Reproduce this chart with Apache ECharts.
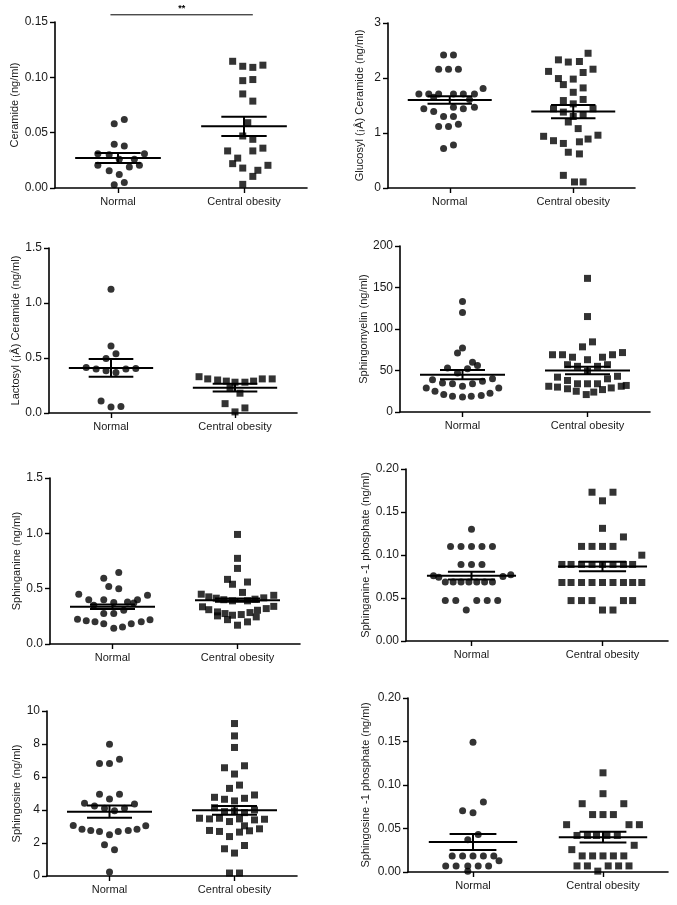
<!DOCTYPE html>
<html>
<head>
<meta charset="utf-8">
<script src="https://cdn.jsdelivr.net/npm/echarts@6/dist/echarts.min.js"></script>
<style>html,body{margin:0;padding:0;background:#fff}#c{width:677px;height:905px}</style>
</head>
<body>
<div id="c"></div>
<script>
// ---- DATA ----
const groups = ['Normal', 'Central obesity'];
const yNames = ['Ceramide (ng/ml)', 'Glucosyl (¡Â) Ceramide (ng/ml)', 'Lactosyl (¡Â) Ceramide (ng/ml)', 'Sphingomyelin (ng/ml)',
  'Sphinganine (ng/ml)', 'Sphinganine -1 phosphate (ng/ml)', 'Sphingosine (ng/ml)', 'Sphingosine -1 phosphate (ng/ml)'];
const yMax = [0.15, 3, 1.5, 200, 1.5, 0.20, 10, 0.20];
const yStep = [0.05, 1, 0.5, 50, 0.5, 0.05, 2, 0.05];
const yDecimals = [2, 0, 1, 0, 1, 2, 0, 2];
const meanNormal = [0.0271, 1.60, 0.41, 45, 0.336, 0.076, 3.90, 0.0345];
const semNormal = [0.0045, 0.07, 0.08, 5.5, 0.02, 0.0045, 0.37, 0.0092];
const meanCentral = [0.0557, 1.39, 0.23, 50, 0.396, 0.0867, 3.98, 0.040];
const semCentral = [0.0086, 0.12, 0.035, 4.5, 0.015, 0.0055, 0.27, 0.0062];
// significance bracket on ceramide panel: [fromX, toX, level]
const sigBracket = [0.44, 1.57, 0.1565];
const sigText = '**';

// Points: [x offset from group centre, value]
const ceramideNormal = [[-0.03,0.058],[0.05,0.062],[-0.03,0.0395],[0.05,0.038],[-0.16,0.031],[-0.07,0.030],[0.21,0.031],[0.01,0.026],[0.13,0.026],[-0.16,0.0205],[0.09,0.019],[0.17,0.0205],[-0.07,0.0155],[0.01,0.0123],[-0.03,0.003],[0.05,0.005]];
const ceramideCentral = [[-0.09,0.1145],[-0.01,0.110],[0.07,0.109],[0.15,0.111],[-0.01,0.097],[0.07,0.098],[-0.01,0.085],[0.07,0.0785],[0.03,0.059],[-0.01,0.047],[0.07,0.044],[-0.13,0.0335],[0.07,0.0335],[0.15,0.036],[-0.05,0.027],[-0.09,0.022],[-0.01,0.018],[0.19,0.0205],[0.11,0.016],[0.07,0.0105],[-0.01,0.0033]];
const glucosylNormal = [[-0.05,2.42],[0.03,2.42],[-0.09,2.16],[-0.01,2.16],[0.07,2.16],[-0.25,1.71],[-0.17,1.71],[-0.09,1.71],[0.03,1.71],[0.11,1.71],[0.20,1.71],[0.27,1.81],[-0.13,1.65],[0.16,1.61],[-0.21,1.44],[-0.13,1.39],[0.03,1.47],[0.11,1.44],[0.20,1.47],[-0.05,1.30],[0.03,1.30],[-0.09,1.12],[-0.01,1.12],[0.07,1.16],[-0.05,0.72],[0.03,0.78]];
const glucosylCentral = [[0.12,2.45],[-0.12,2.33],[-0.04,2.29],[0.05,2.30],[-0.20,2.12],[0.16,2.16],[0.08,2.10],[-0.12,1.99],[0.00,1.98],[-0.08,1.88],[0.08,1.82],[0.00,1.74],[-0.08,1.59],[0.08,1.61],[0.00,1.53],[-0.16,1.44],[0.16,1.44],[-0.08,1.38],[0.00,1.30],[0.08,1.32],[-0.04,1.20],[0.04,1.08],[-0.24,0.94],[0.20,0.96],[-0.16,0.86],[0.12,0.89],[-0.08,0.81],[0.05,0.84],[-0.04,0.65],[0.05,0.62],[-0.08,0.23],[0.01,0.11],[0.08,0.11]];
const lactosylNormal = [[0,1.126],[0,0.608],[0.04,0.538],[-0.04,0.496],[-0.20,0.414],[-0.12,0.40],[-0.04,0.383],[0.04,0.368],[0.12,0.40],[0.20,0.405],[-0.08,0.11],[0,0.055],[0.08,0.06]];
const lactosylCentral = [[-0.29,0.33],[-0.22,0.31],[-0.14,0.30],[-0.07,0.29],[0,0.28],[0.08,0.28],[0.15,0.29],[0.22,0.31],[0.30,0.31],[-0.04,0.23],[0.04,0.18],[-0.08,0.085],[0.08,0.046],[0,0.01]];
const sphingomyelinNormal = [[0,133],[0,120],[0,77],[-0.04,71],[0.08,60],[0.12,56],[-0.12,53],[0.04,52],[-0.04,47],[-0.24,39],[-0.16,35],[-0.08,34],[0.08,34],[0.16,37],[0.24,40],[0,31],[-0.29,29],[-0.22,25],[0.29,29],[-0.15,21],[-0.08,19],[0,18],[0.07,19],[0.15,20],[0.22,22.5]];
const sphingomyelinCentral = [[0,161],[0,115],[0.04,84.5],[-0.04,78.5],[-0.28,69],[-0.20,69],[-0.12,66],[0,63],[0.12,66],[0.20,69],[0.28,71.6],[-0.16,57],[-0.08,55],[0.08,55],[0.16,57],[0,49],[-0.24,42],[-0.16,38],[-0.08,34],[0,34],[0.08,34],[0.16,40],[0.24,43],[-0.31,31],[-0.24,30],[-0.16,28],[-0.09,25],[-0.01,21],[0.05,24],[0.12,27],[0.19,29],[0.27,31],[0.31,32]];
const sphinganineNormal = [[0.05,0.647],[-0.07,0.593],[-0.03,0.52],[0.05,0.50],[-0.27,0.45],[0.28,0.44],[-0.19,0.40],[-0.07,0.40],[0.20,0.40],[-0.15,0.35],[0.01,0.375],[0.12,0.38],[0.17,0.37],[-0.07,0.275],[0.01,0.275],[0.09,0.305],[-0.28,0.224],[-0.21,0.21],[-0.14,0.20],[-0.07,0.184],[0.01,0.142],[0.08,0.154],[0.15,0.184],[0.23,0.20],[0.30,0.22]];
const sphinganineCentral = [[0,0.99],[0,0.774],[0,0.683],[-0.08,0.584],[-0.04,0.54],[0.08,0.56],[0.04,0.466],[-0.29,0.45],[-0.23,0.426],[-0.17,0.414],[-0.11,0.40],[-0.04,0.39],[0.08,0.39],[0.14,0.405],[0.21,0.417],[0.29,0.44],[-0.28,0.336],[-0.23,0.31],[-0.16,0.29],[-0.10,0.275],[-0.04,0.26],[0.03,0.266],[0.10,0.284],[0.16,0.305],[0.23,0.32],[0.29,0.34],[-0.16,0.254],[-0.08,0.22],[0,0.17],[0.08,0.20],[0.15,0.245]];
const sa1pNormal = [[0,0.130],[-0.16,0.11],[-0.08,0.11],[0,0.11],[0.08,0.11],[0.16,0.11],[-0.08,0.089],[0,0.089],[0.08,0.089],[-0.29,0.076],[0.30,0.077],[-0.25,0.074],[0.24,0.075],[-0.20,0.0685],[-0.14,0.0685],[-0.08,0.0685],[-0.02,0.0685],[0.04,0.0685],[0.10,0.0685],[0.16,0.0685],[-0.20,0.047],[-0.12,0.047],[0.04,0.047],[0.12,0.047],[0.20,0.047],[-0.04,0.036]];
const sa1pCentral = [[-0.08,0.173],[0.08,0.173],[0,0.163],[0,0.131],[0.16,0.121],[-0.16,0.11],[-0.08,0.11],[0,0.11],[0.08,0.11],[0.30,0.0998],[-0.31,0.089],[-0.24,0.089],[-0.16,0.089],[-0.08,0.089],[0,0.089],[0.08,0.089],[0.16,0.089],[0.23,0.089],[-0.31,0.068],[-0.24,0.068],[-0.16,0.068],[-0.08,0.068],[0,0.068],[0.08,0.068],[0.16,0.068],[0.23,0.068],[0.30,0.068],[-0.24,0.047],[-0.16,0.047],[-0.08,0.047],[0.16,0.047],[0.23,0.047],[0,0.036],[0.08,0.036]];
const sphingosineNormal = [[0,7.99],[-0.08,6.82],[0,6.82],[0.08,7.08],[-0.08,4.95],[0.08,4.95],[0,4.67],[-0.20,4.41],[0.20,4.37],[-0.12,4.25],[-0.04,4.1],[0.04,3.96],[0.12,4.1],[-0.29,3.06],[0.29,3.04],[-0.22,2.84],[-0.15,2.76],[-0.08,2.70],[0,2.5],[0.07,2.70],[0.15,2.76],[0.22,2.84],[-0.04,1.89],[0.04,1.59],[0,0.24]];
const sphingosineCentral = [[0,9.24],[0,8.49],[0,7.79],[-0.08,6.56],[0.08,6.68],[0,6.18],[0.04,5.51],[-0.04,5.31],[-0.16,4.77],[-0.08,4.65],[0,4.55],[0.08,4.71],[0.16,4.91],[-0.16,4.14],[-0.08,3.90],[0,3.94],[0.08,3.84],[0.16,4.0],[-0.28,3.50],[-0.20,3.46],[-0.12,3.50],[0.04,3.46],[-0.04,3.30],[0.16,3.40],[0.24,3.44],[0.08,3.04],[-0.20,2.76],[-0.12,2.70],[0.04,2.66],[0.12,2.74],[0.20,2.86],[-0.04,2.39],[-0.08,1.65],[0.08,1.85],[0,1.39],[-0.04,0.18],[0.04,0.18]];
const so1pNormal = [[0,0.149],[0.08,0.0805],[-0.08,0.0705],[0,0.068],[0.04,0.043],[-0.04,0.037],[-0.16,0.0185],[-0.08,0.0185],[0,0.0185],[0.08,0.0185],[0.16,0.0185],[0.20,0.013],[-0.21,0.007],[-0.13,0.007],[-0.04,0.007],[0.04,0.007],[0.12,0.007],[-0.04,0.001]];
const so1pCentral = [[0,0.114],[0,0.090],[-0.16,0.0785],[0.16,0.0785],[-0.08,0.066],[0,0.066],[0.08,0.066],[-0.28,0.0544],[0.20,0.0544],[0.28,0.0544],[-0.20,0.042],[-0.12,0.042],[-0.05,0.042],[0.03,0.042],[0.11,0.042],[0.24,0.0307],[-0.24,0.0257],[-0.16,0.0185],[-0.08,0.0185],[0,0.0185],[0.08,0.0185],[0.16,0.0185],[-0.20,0.007],[-0.12,0.007],[0.04,0.007],[0.12,0.007],[0.20,0.007],[-0.04,0.001]];

const normalSets = [ceramideNormal, glucosylNormal, lactosylNormal, sphingomyelinNormal, sphinganineNormal, sa1pNormal, sphingosineNormal, so1pNormal];
const centralSets = [ceramideCentral, glucosylCentral, lactosylCentral, sphingomyelinCentral, sphinganineCentral, sa1pCentral, sphingosineCentral, so1pCentral];

// ---- LAYOUT (pixels) ----
const grids = [
  {left:55, top:22, width:252, height:166},
  {left:388, top:23, width:247, height:165},
  {left:49, top:248, width:248, height:165},
  {left:400, top:246, width:250, height:166},
  {left:50, top:478, width:250, height:166},
  {left:406, top:469, width:262, height:172},
  {left:47, top:711, width:250, height:165},
  {left:408, top:698, width:260, height:174}
];
const nameGaps = [33, 23, 28, 29, 27, 35, 24, 37];
const centers = [0.5, 1.5];
const MEAN_HW = 0.34, SEM_HW = 0.18;
const TXT = '#1a1a1a';
const FONT = 'Liberation Sans, Arial, sans-serif';

const chart = echarts.init(document.getElementById('c'), null, {renderer: 'canvas'});
const option = {
  animation: false,
  backgroundColor: '#fff',
  grid: [], xAxis: [], yAxis: [], series: []
};

grids.forEach((g, i) => {
  option.grid.push(Object.assign({containLabel: false}, g));
  option.xAxis.push({
    type: 'value', gridIndex: i, min: 0, max: 2,
    splitLine: {show: false},
    axisLine: {show: true, onZero: false, lineStyle: {color: '#000', width: 1.6}},
    axisTick: {show: true, customValues: centers, length: 5, lineStyle: {color: '#000', width: 1.4}},
    axisLabel: {show: true, customValues: centers, margin: 8, color: TXT, fontSize: 11, fontFamily: FONT,
      formatter: v => v < 1 ? groups[0] : groups[1]}
  });
  option.yAxis.push({
    type: 'value', gridIndex: i, min: 0, max: yMax[i], interval: yStep[i],
    name: yNames[i], nameLocation: 'middle', nameGap: nameGaps[i], nameRotate: 90,
    nameTextStyle: {color: TXT, fontSize: 11, fontFamily: FONT},
    splitLine: {show: false},
    axisLine: {show: true, lineStyle: {color: '#000', width: 1.6}},
    axisTick: {show: true, length: 5, lineStyle: {color: '#000', width: 1.4}},
    axisLabel: {margin: 7, color: TXT, fontSize: 12, fontFamily: FONT, formatter: v => v.toFixed(yDecimals[i])}
  });
  option.series.push({
    type: 'scatter', xAxisIndex: i, yAxisIndex: i, symbol: 'circle', symbolSize: 7,
    itemStyle: {color: '#000'},
    data: normalSets[i].map(p => [centers[0] + p[0], p[1]]), z: 2
  });
  option.series.push({
    type: 'scatter', xAxisIndex: i, yAxisIndex: i, symbol: 'rect', symbolSize: 7,
    itemStyle: {color: '#000'},
    data: centralSets[i].map(p => [centers[1] + p[0], p[1]]), z: 2
  });
  option.series.push({
    type: 'custom', xAxisIndex: i, yAxisIndex: i, z: 5, clip: false,
    data: [[centers[0], meanNormal[i], semNormal[i]], [centers[1], meanCentral[i], semCentral[i]]],
    renderItem: (params, api) => {
      const c = api.value(0), m = api.value(1), s = api.value(2);
      const seg = (x1, y1, x2, y2) => {
        const a = api.coord([x1, y1]), b = api.coord([x2, y2]);
        return {type: 'line', shape: {x1: a[0], y1: a[1], x2: b[0], y2: b[1]}, style: {stroke: '#000', lineWidth: 2}};
      };
      return {type: 'group', children: [
        seg(c - MEAN_HW, m, c + MEAN_HW, m),
        seg(c - SEM_HW, m + s, c + SEM_HW, m + s),
        seg(c - SEM_HW, m - s, c + SEM_HW, m - s),
        seg(c, m - s, c, m + s)
      ]};
    }
  });
});

// significance bracket on first panel
option.series.push({
  type: 'custom', xAxisIndex: 0, yAxisIndex: 0, z: 5, clip: false,
  data: [sigBracket],
  renderItem: (params, api) => {
    const a = api.coord([api.value(0), api.value(2)]);
    const b = api.coord([api.value(1), api.value(2)]);
    return {type: 'group', children: [
      {type: 'line', shape: {x1: a[0], y1: a[1], x2: b[0], y2: b[1]}, style: {stroke: '#000', lineWidth: 1}},
      {type: 'text', x: (a[0] + b[0]) / 2, y: a[1] - 2, style: {text: sigText, fill: '#000', font: 'bold 9px ' + FONT, align: 'center', verticalAlign: 'bottom'}}
    ]};
  }
});

chart.setOption(option);
</script>
</body>
</html>
